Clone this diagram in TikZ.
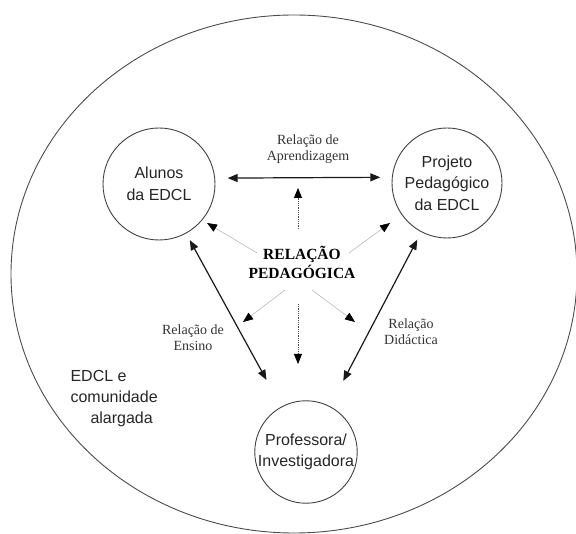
\documentclass[tikz,border=0pt]{standalone}
\usepackage{fontspec}
\setmainfont{Liberation Serif}
\setsansfont{Liberation Sans}
\usetikzlibrary{arrows.meta}

\begin{document}
\begin{tikzpicture}[x=1pt,y=-1pt,
  actor/.style={circle,draw=black!75,line width=0.9pt,inner sep=0pt,outer sep=0pt,
    align=center,font=\sffamily\fontsize{16}{21.5}\selectfont,text=black!85},
  serifnote/.style={align=center,font=\rmfamily\fontsize{14}{16}\selectfont,text=black!80},
  sansnote/.style={align=left,font=\sffamily\fontsize{16}{21}\selectfont,text=black!85},
  link/.style={line width=1.2pt,black!90,{Triangle[length=10pt,width=8pt]}-{Triangle[length=10pt,width=8pt]}},
  ray/.style={line width=0.6pt,gray!55,-{Triangle[length=10pt,width=8pt,color=black]}},
  vray/.style={line width=0.8pt,black!70,densely dotted,-{Triangle[length=10pt,width=8pt,color=black]}}
]
\useasboundingbox (0,0) rectangle (576,534);

% surrounding community
\draw[black!70,line width=0.9pt] (294,274) ellipse [x radius=283, y radius=259];

% the three poles
\node[actor,minimum size=112pt] (alunos)  at (159,184) {Alunos\\da EDCL};
\node[actor,minimum size=110pt] (projeto) at (447,183) {Projeto\\Pedagógico\\da EDCL};
\node[actor,minimum size=102pt] (prof)    at (306,452) {Professora/\\Investigadora};

% central relation
\node[align=center,font=\rmfamily\bfseries\fontsize{15.5}{19}\selectfont] (rp) at (302,262)
  {RELAÇÃO\\PEDAGÓGICA};

% relation labels
\node[serifnote] (lapr) at (308,149) {Relação de\\Aprendizagem};
\node[serifnote] (lens) at (193,338) {Relação de\\Ensino};
\node[serifnote] (ldid) at (411,332) {Relação\\Didáctica};
\node[sansnote,anchor=west] (lcom) at (67,399) {EDCL e\\comunidade\\\hspace*{20pt}alargada};

% two-way relations between poles
\draw[link,shorten <=13pt,shorten >=12pt] (alunos.6) -- (projeto.174);
\draw[link,shorten <=8pt,shorten >=31pt] (alunos) -- (prof);
\draw[link,shorten <=9pt,shorten >=29pt] (projeto) -- (prof);

% rays out of the pedagogical relation
\coordinate (ulS) at (257,253); \coordinate (ulT) at (207,223);
\coordinate (urS) at (349,253); \coordinate (urT) at (390,223);
\coordinate (dlS) at (285,290); \coordinate (dlT) at (243,322);
\coordinate (drS) at (312,290); \coordinate (drT) at (355,322);
\coordinate (upS) at (298,229); \coordinate (upT) at (298,188);
\coordinate (dnS) at (298,304); \coordinate (dnT) at (298,364);

\draw[ray] (ulS) -- (ulT);
\draw[ray] (urS) -- (urT);
\draw[ray] (dlS) -- (dlT);
\draw[ray] (drS) -- (drT);
\draw[vray] (upS) -- (upT);
\draw[vray] (dnS) -- (dnT);
\end{tikzpicture}
\end{document}
